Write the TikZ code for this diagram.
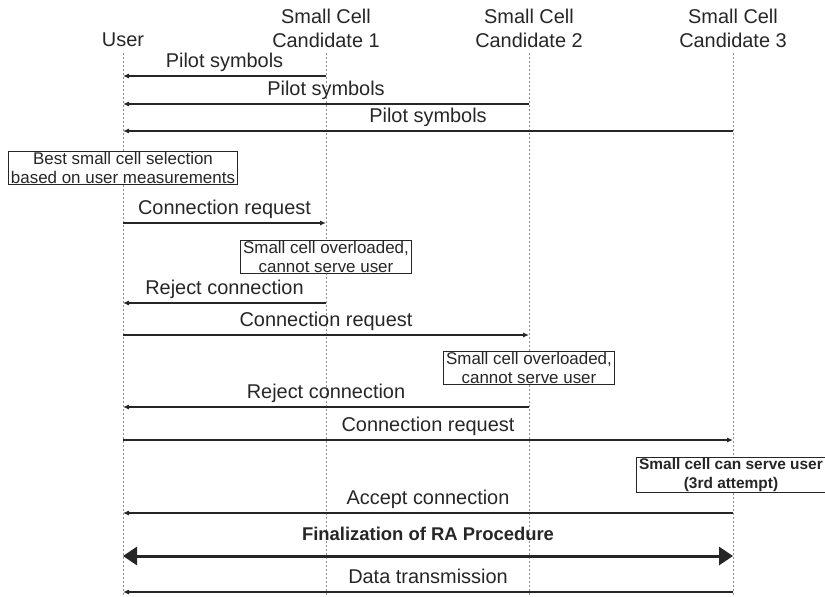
\documentclass[tikz,border=0pt]{standalone}
\usepackage{fontspec}
\setmainfont{Liberation Sans}
\usetikzlibrary{arrows.meta}
\definecolor{ink}{HTML}{262626}
\definecolor{lifegray}{HTML}{8C8C8C}

\begin{document}
\begin{tikzpicture}[x=1bp,y=-1bp,>={Latex[length=6bp,width=5bp]},
  head/.style={text=ink,align=center,inner sep=0pt,font=\fontsize{20}{24}\selectfont},
  life/.style={draw=lifegray,line width=0.7bp,dash pattern=on 2bp off 2bp},
  msg/.style={->,draw=ink,line width=1.1bp},
  fin/.style={{Triangle[length=14bp,width=18bp]}-{Triangle[length=14bp,width=18bp]},draw=ink,line width=3bp},
  lbl/.style={text=ink,inner sep=0pt,above=4bp,text height=14bp,text depth=4bp,font=\fontsize{20}{24}\selectfont},
  note/.style={draw=ink,line width=0.9bp,fill=white,text=ink,align=center,inner xsep=2.5bp,inner ysep=0.5bp,font=\fontsize{17}{19.5}\selectfont}]
  \clip (0,0) rectangle (825,597);
  \node[head] (user) at (123,40) {User};
  \node[head] (cand1) at (326,28) {Small Cell\\Candidate 1};
  \node[head] (cand2) at (529,28) {Small Cell\\Candidate 2};
  \node[head] (cand3) at (733,28) {Small Cell\\Candidate 3};
  \coordinate (userTop) at (123,53);
  \coordinate (cand1Top) at (326,53);
  \coordinate (cand2Top) at (529,53);
  \coordinate (cand3Top) at (733,53);
  \coordinate (userEnd) at (123,597);
  \coordinate (cand1End) at (326,597);
  \coordinate (cand2End) at (529,597);
  \coordinate (cand3End) at (733,597);
  \draw[life] (userTop) -- (userEnd);
  \draw[life] (cand1Top) -- (cand1End);
  \draw[life] (cand2Top) -- (cand2End);
  \draw[life] (cand3Top) -- (cand3End);

  \coordinate (pilot1s) at (326,76);  \coordinate (pilot1e) at (123,76);
  \coordinate (pilot2s) at (529,104); \coordinate (pilot2e) at (123,104);
  \coordinate (pilot3s) at (733,131); \coordinate (pilot3e) at (123,131);
  \draw[msg] (pilot1s) -- node[lbl] {Pilot symbols} (pilot1e);
  \draw[msg] (pilot2s) -- node[lbl] {Pilot symbols} (pilot2e);
  \draw[msg] (pilot3s) -- node[lbl] {Pilot symbols} (pilot3e);

  \node[note] (select) at (123,168) {Best small cell selection\\based on user measurements};

  \coordinate (req1s) at (123,223); \coordinate (req1e) at (326,223);
  \draw[msg] (req1s) -- node[lbl] {Connection request} (req1e);
  \node[note] (over1) at (326,257) {Small cell overloaded,\\cannot serve user};
  \coordinate (rej1s) at (326,303); \coordinate (rej1e) at (123,303);
  \draw[msg] (rej1s) -- node[lbl] {Reject connection} (rej1e);

  \coordinate (req2s) at (123,335); \coordinate (req2e) at (529,335);
  \draw[msg] (req2s) -- node[lbl] {Connection request} (req2e);
  \node[note] (over2) at (529,368) {Small cell overloaded,\\cannot serve user};
  \coordinate (rej2s) at (529,407); \coordinate (rej2e) at (123,407);
  \draw[msg] (rej2s) -- node[lbl] {Reject connection} (rej2e);

  \coordinate (req3s) at (123,440); \coordinate (req3e) at (733,440);
  \draw[msg] (req3s) -- node[lbl] {Connection request} (req3e);
  \node[note,font=\fontsize{15.5}{19.5}\selectfont\bfseries] (serve) at (731,475) {Small cell can serve user\\(3rd attempt)};
  \coordinate (accs) at (733,513); \coordinate (acce) at (123,513);
  \draw[msg] (accs) -- node[lbl] {Accept connection} (acce);

  \coordinate (fins) at (123,556); \coordinate (fine) at (733,556);
  \draw[fin] (fins) -- node[lbl,above=6bp,font=\fontsize{18.5}{24}\selectfont\bfseries] {Finalization of RA Procedure} (fine);

  \coordinate (datas) at (733,592); \coordinate (datae) at (123,592);
  \draw[msg] (datas) -- node[lbl] {Data transmission} (datae);
\end{tikzpicture}
\end{document}
